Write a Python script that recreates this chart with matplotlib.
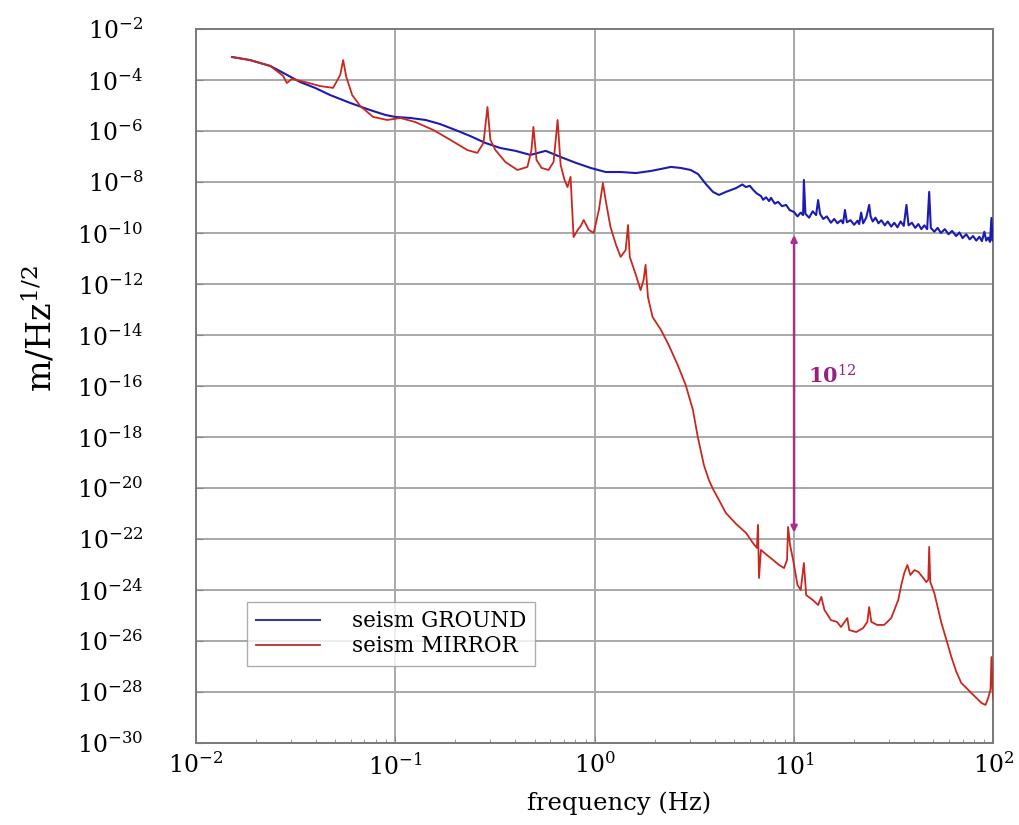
import numpy as np
import matplotlib
matplotlib.use("Agg")
import matplotlib.pyplot as plt
from matplotlib.ticker import LogLocator, NullFormatter, FixedLocator, NullLocator

plt.rcParams['font.family'] = ['DejaVu Serif']
plt.rcParams['mathtext.fontset'] = 'dejavuserif'

# ---- data (frequency in Hz, amplitude as log10 of m/Hz^1/2) ----
ground_freq = [0.0152, 0.0187, 0.0236, 0.0280, 0.0333, 0.0396, 0.0471, 0.0594, 0.0748,
               0.0891, 0.100, 0.119, 0.142, 0.168, 0.200, 0.238, 0.283, 0.337, 0.401,
               0.476, 0.568, 0.675, 0.804, 0.955, 1.135, 1.35, 1.61, 1.91, 2.15, 2.41,
               2.70, 3.03, 3.30, 3.61, 3.92, 4.20, 4.55, 5.12, 5.50, 5.74, 6.00, 6.22,
               6.50, 6.82, 7.00, 7.23, 7.50, 7.66, 8.00, 8.32, 8.70, 9.12, 9.50,
               10.0, 10.4, 10.8, 11.1, 11.2, 11.4, 11.9, 12.4, 12.9, 13.2, 13.5, 14.0,
               14.6, 15.3, 15.9, 16.5, 17.2, 17.6, 18.0, 18.4, 19.2, 20.0, 20.8, 21.2,
               21.7, 22.2, 23.0, 23.5, 23.8, 24.2, 24.8, 25.6, 26.5, 27.4, 28.5, 29.5,
               30.7, 31.8, 33.0, 34.2, 35.5, 36.6, 37.5, 39.0, 40.5, 42.0, 43.5, 45.0,
               46.5, 47.6, 48.5, 50.5, 52.5, 54.5, 57.0, 59.5, 62.0, 65.0, 67.5, 70.0,
               73.0, 76.0, 79.0, 82.0, 85.0, 87.5, 90.0, 92.0, 94.0, 96.0, 97.7, 98.8,
               100.0]
ground_log = [-3.10, -3.22, -3.45, -3.76, -4.08, -4.31, -4.59, -4.90, -5.18,
              -5.37, -5.45, -5.49, -5.57, -5.73, -5.96, -6.20, -6.47, -6.67, -6.78,
              -6.94, -6.78, -7.02, -7.25, -7.45, -7.61, -7.61, -7.65, -7.57, -7.49, -7.41,
              -7.45, -7.53, -7.69, -8.08, -8.39, -8.51, -8.39, -8.24, -8.10, -8.20, -8.15, -8.30,
              -8.45, -8.55, -8.70, -8.60, -8.75, -8.62, -8.85, -8.78, -8.95, -8.90, -9.10,
              -9.18, -9.35, -9.20, -9.30, -7.92, -9.25, -9.40, -9.15, -9.30, -8.71, -9.25, -9.45,
              -9.35, -9.60, -9.45, -9.62, -9.50, -9.62, -9.10, -9.58, -9.50, -9.68, -9.52, -9.65,
              -9.20, -9.62, -9.40, -9.10, -8.90, -9.35, -9.55, -9.40, -9.62, -9.50, -9.70, -9.55,
              -9.75, -9.60, -9.78, -9.55, -9.72, -8.90, -9.70, -9.60, -9.80, -9.65, -9.85, -9.70,
              -9.85, -8.39, -9.80, -9.95, -9.80, -10.00, -9.85, -10.05, -9.92, -10.12, -9.98, -10.20,
              -10.05, -10.25, -10.12, -10.30, -10.15, -10.32, -9.95, -10.30, -10.18, -10.35, -9.41, -10.30,
              -10.20]

mirror_freq = [0.0152, 0.0187, 0.0236, 0.0274, 0.0286, 0.0303, 0.0353, 0.0420, 0.0488,
               0.0530, 0.0548, 0.0568, 0.0608, 0.0667, 0.0775, 0.0912, 0.106, 0.126, 0.155,
               0.189, 0.230, 0.258, 0.277, 0.290, 0.300, 0.318, 0.357, 0.410, 0.460, 0.482,
               0.493, 0.511, 0.542, 0.587, 0.622, 0.652, 0.675, 0.706, 0.731, 0.757, 0.784,
               0.822, 0.851, 0.881, 0.934, 0.989, 1.05, 1.10, 1.135, 1.20, 1.28, 1.35, 1.43,
               1.47, 1.50, 1.61, 1.70, 1.76, 1.80, 1.85, 1.95, 2.15, 2.35, 2.61, 2.86, 3.11,
               3.29, 3.53, 3.74, 3.92, 4.20, 4.55, 5.12, 5.74, 6.22, 6.51, 6.59, 6.67, 6.82,
               7.31, 7.84, 8.41, 8.91, 9.22, 9.33, 9.55, 9.89, 10.4, 10.8, 11.2, 11.5, 12.4,
               13.2, 13.7, 14.2, 15.3, 16.4, 17.2, 18.5, 18.9, 20.5, 22.2, 23.3, 23.8, 24.4,
               26.1, 28.3, 30.7, 33.3, 34.5, 35.7, 37.0, 38.3, 40.1, 42.0, 44.5, 46.0, 47.1,
               47.6, 48.2, 50.5, 52.9, 54.8, 58.1, 61.5, 65.2, 69.0, 73.1, 77.4, 82.2, 87.1,
               91.2, 94.4, 96.6, 97.7, 98.9, 100.0]
mirror_log = [-3.10, -3.22, -3.45, -3.84, -4.12, -3.96, -4.08, -4.24, -4.31,
              -3.80, -3.22, -3.88, -4.59, -5.02, -5.45, -5.57, -5.49, -5.65, -5.96,
              -6.35, -6.75, -6.86, -6.47, -5.06, -6.35, -6.75, -7.22, -7.53, -7.41, -6.75,
              -5.84, -7.14, -7.45, -7.53, -7.22, -5.57, -7.33, -7.92, -8.20, -7.80, -10.16,
              -9.88, -9.73, -9.49, -9.88, -10.00, -9.10, -8.04, -8.71, -9.76, -10.47, -10.94, -10.67,
              -9.69, -10.94, -11.65, -12.24, -11.84, -11.25, -12.51, -13.29, -13.80, -14.39, -15.18, -15.96, -16.94,
              -18.00, -19.10, -19.69, -20.04, -20.47, -20.98, -21.41, -21.76, -22.16, -22.35, -21.45, -23.53, -22.43,
              -22.63, -22.82, -23.02, -23.14, -22.82, -21.53, -22.24, -22.82, -23.80, -24.00, -22.94, -24.20, -24.39,
              -24.59, -24.27, -24.78, -25.18, -25.25, -25.45, -25.10, -25.57, -25.65, -25.49, -25.25, -24.67, -25.25,
              -25.37, -25.37, -25.10, -24.39, -23.80, -23.33, -23.02, -23.41, -23.22, -23.29, -23.53, -23.69, -23.60,
              -22.31, -23.69, -24.12, -24.78, -25.29, -25.96, -26.63, -27.22, -27.65, -27.84, -28.04, -28.24, -28.43,
              -28.51, -28.20, -27.90, -26.63, -27.90, -28.31]

labels = ["seism GROUND", "seism MIRROR"]
y_tick_exponents = list(range(-30, -1, 2))
arrow_freq = 10.0
arrow_top_log = -10.08
arrow_bottom_log = -21.75
arrow_text = r"10$^{12}$"

# ---- figure ----
fig = plt.figure(figsize=(10.2, 8.25), dpi=100)
ax = fig.add_axes([0.192, 0.0994, 0.782, 0.8655])

ground_color = '#1c1cb0'
mirror_color = '#c8281e'

ax.plot(ground_freq, 10.0 ** np.array(ground_log), color=ground_color, lw=1.5,
        label=labels[0], zorder=3)
ax.plot(mirror_freq, 10.0 ** np.array(mirror_log), color=mirror_color, lw=1.3,
        label=labels[1], zorder=4)

ax.set_xscale('log')
ax.set_yscale('log')
ax.set_xlim(1e-2, 1e2)
ax.set_ylim(1e-30, 1e-2)

ax.yaxis.set_major_locator(FixedLocator([10.0 ** e for e in y_tick_exponents]))
ax.yaxis.set_minor_locator(NullLocator())
ax.xaxis.set_major_locator(LogLocator(base=10, numticks=10))
ax.xaxis.set_minor_locator(LogLocator(base=10, subs=np.arange(2, 10), numticks=20))
ax.xaxis.set_minor_formatter(NullFormatter())

ax.grid(True, which='major', color='#a8a8a8', lw=1.4)
ax.set_axisbelow(True)
for s in ax.spines.values():
    s.set_color('#7a7a7a')
    s.set_linewidth(1.4)

ax.tick_params(axis='both', which='major', direction='in', length=5, color='#888888',
               labelsize=17)
ax.tick_params(axis='y', which='major', pad=38)
ax.tick_params(axis='x', which='major', pad=7)
ax.tick_params(axis='both', which='minor', direction='in', length=3, color='#888888')

ax.set_xlabel("frequency (Hz)", fontsize=17.5)
ax.xaxis.set_label_coords(0.53, -0.068)
ax.set_ylabel(r"m/Hz$^{1/2}$", fontsize=24)
ax.yaxis.set_label_coords(-0.172, 0.58)

ax.annotate('', xy=(arrow_freq, 10.0 ** arrow_top_log),
            xytext=(arrow_freq, 10.0 ** arrow_bottom_log),
            arrowprops=dict(arrowstyle='<|-|>', color='#a8308a', lw=1.8, mutation_scale=9,
                            shrinkA=0, shrinkB=0), zorder=5)
ax.text(11.8, 10.0 ** -15.6, arrow_text, color='#9a2080', fontsize=15, fontweight='bold',
        va='center', ha='left')

leg = ax.legend(loc='upper left', bbox_to_anchor=(0.064, 0.198), fontsize=15.5,
                frameon=True, fancybox=False, edgecolor='#999999', handlelength=3.0,
                handletextpad=1.5, borderpad=0.4, labelspacing=0.15, borderaxespad=0)
leg.get_frame().set_linewidth(1.0)
leg.legend_handles[0].set_color('#3a3a80')
leg.legend_handles[1].set_color('#b83030')

fig.savefig("out.png", dpi=100, facecolor='white')
